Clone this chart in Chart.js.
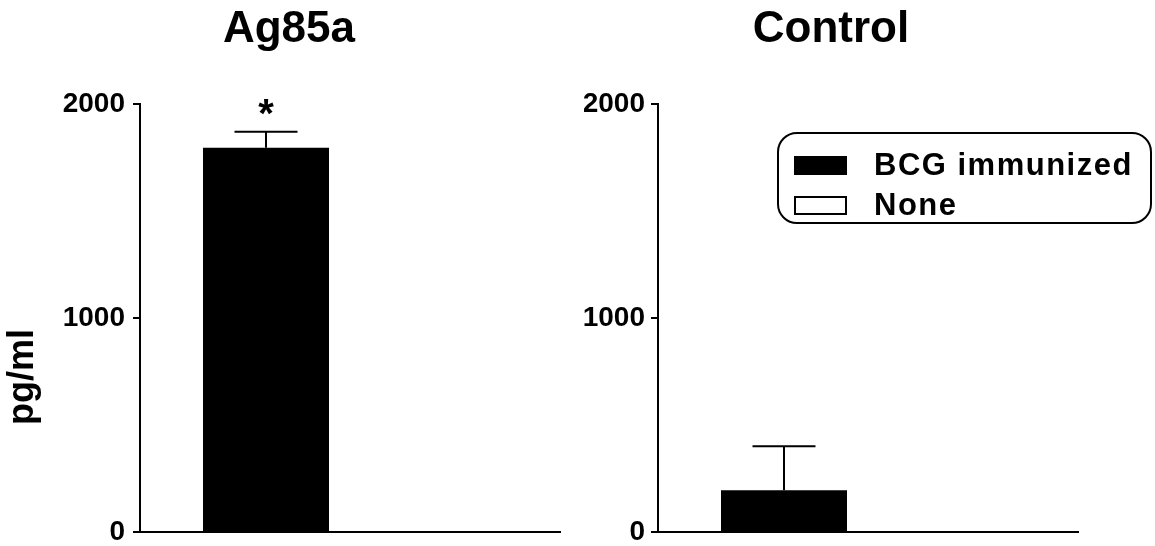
<!DOCTYPE html>
<html>
<head>
<meta charset="utf-8">
<title>Ag85a / Control</title>
<script src="https://cdn.jsdelivr.net/npm/chart.js@4"></script>
<style>
	html, body { margin: 0; padding: 0; background: #fff; }
	body { width: 1155px; height: 546px; position: relative; overflow: hidden; }
	.panel { position: absolute; top: 0; height: 546px; }
	#panel-left  { left: 0;     width: 578px; }
	#panel-right { left: 584px; width: 571px; }
	#y-title {
		position: absolute; left: 21px; top: 377px; white-space: nowrap;
		transform: translate(-50%, -50%) rotate(-90deg);
		font: bold 36px "Liberation Sans", Arial, sans-serif; line-height: 1; color: #000;
	}
	#legend {
		position: absolute; left: 777px; top: 132px; width: 371px; height: 88px;
		border: 2px solid #000; border-radius: 20px; background: #fff;
		font-family: "Liberation Sans", Arial, sans-serif; font-weight: bold;
		font-size: 31px; letter-spacing: 1.5px; color: #000;
	}
	#legend ul { list-style: none; margin: 0; padding: 11px 0 0 15px; }
	#legend li { display: flex; align-items: center; height: 40px; }
	#legend .box { width: 53px; height: 19px; box-sizing: border-box; margin-right: 27px; }
</style>
</head>
<body>
<div class="panel" id="panel-left"><canvas id="chart-ag85a"></canvas></div>
<div class="panel" id="panel-right"><canvas id="chart-control"></canvas></div>
<div id="y-title"></div>
<div id="legend"></div>

<script>
( function () {
	'use strict';

	// Data (pg/ml)
	var panels      = [ 'Ag85a', 'Control' ];
	var seriesNames = [ 'BCG immunized', 'None' ];
	var bcgValues   = [ 1795, 195 ];
	var bcgErrors   = [ 75, 205 ];
	var noneValues  = [ 0, 0 ];
	var noneErrors  = [ 0, 0 ];
	var sigMarks    = [ '*', '' ];
	var yTicks      = [ 0, 1000, 2000 ];
	var yAxisTitle  = 'pg/ml';

	var FONT = '"Liberation Sans", Arial, sans-serif';
	Chart.defaults.font.family = FONT;
	Chart.defaults.color = '#000';

	// ── Error bars (upper only) plus significance mark ──────────────────
	var errorBars = {
		id : 'errorBars',
		afterDatasetsDraw : function ( chart ) {
			var ctx = chart.ctx;
			var y   = chart.scales.y;
			chart.data.datasets.forEach( function ( ds, di ) {
				chart.getDatasetMeta( di ).data.forEach( function ( bar, i ) {
					var err = ds.errors ? ds.errors[ i ] : 0;
					if ( ! err ) {
						return;
					}
					var top  = y.getPixelForValue( ds.data[ i ] + err );
					var half = bar.width * 0.25;
					ctx.save();
					ctx.strokeStyle = '#000';
					ctx.lineWidth   = 2;
					ctx.beginPath();
					ctx.moveTo( bar.x, bar.y );
					ctx.lineTo( bar.x, top );
					ctx.moveTo( bar.x - half, top );
					ctx.lineTo( bar.x + half, top );
					ctx.stroke();
					if ( ds.marks && ds.marks[ i ] ) {
						ctx.fillStyle    = '#000';
						ctx.font         = 'bold 40px ' + FONT;
						ctx.textAlign    = 'center';
						ctx.textBaseline = 'alphabetic';
						ctx.fillText( ds.marks[ i ], bar.x, top - 5 );
					}
					ctx.restore();
				} );
			} );
		},
	};

	function makeChart( canvasId, i, cfg ) {
		return new Chart( document.getElementById( canvasId ), {
			type : 'bar',
			data : {
				labels   : [ panels[ i ] ],
				datasets : [
					{
						label           : seriesNames[ 0 ],
						data            : [ bcgValues[ i ] ],
						errors          : [ bcgErrors[ i ] ],
						marks           : [ sigMarks[ i ] ],
						backgroundColor : '#000',
						borderColor     : '#000',
						borderWidth     : 0,
					},
					{
						label           : seriesNames[ 1 ],
						data            : [ noneValues[ i ] ],
						errors          : [ noneErrors[ i ] ],
						backgroundColor : '#fff',
						borderColor     : '#000',
						borderWidth     : 2,
					},
				],
			},
			options : {
				responsive          : true,
				maintainAspectRatio : false,
				animation           : false,
				categoryPercentage  : 0.8,
				barPercentage       : 0.75,
				layout : { padding : cfg.padding },
				plugins : {
					legend  : { display : false },
					tooltip : { enabled : false },
					title   : {
						display : true,
						text    : panels[ i ],
						color   : '#000',
						font    : { size : 44, weight : 'bold' },
						padding : { top : 3, bottom : 48 },
					},
				},
				scales : {
					x : {
						grid   : { display : false },
						border : { display : true, color : '#000', width : 2 },
						ticks  : { display : false },
						afterFit : function ( scale ) { scale.height = 14; },
					},
					y : {
						min : 0,
						max : 2000,
						afterBuildTicks : function ( scale ) {
							scale.ticks = yTicks.map( function ( v ) { return { value : v }; } );
						},
						// fixed axis width; label overflow must not move the plot edges
						afterFit : function ( scale ) {
							scale.width         = cfg.axisWidth;
							scale.paddingTop    = 0;
							scale.paddingBottom = 0;
						},
						grid   : {
							drawOnChartArea : false,
							drawTicks       : true,
							tickLength      : 7,
							color           : '#000',
							lineWidth       : 2,
						},
						border : { display : true, color : '#000', width : 2 },
						ticks  : {
							padding  : cfg.tickPadding,
							color    : '#000',
							font     : { size : 28, weight : 'bold', lineHeight : 1 },
							callback : function ( v ) { return String( v ); },
						},
					},
				},
			},
			plugins : [ errorBars ],
		} );
	}

	makeChart( 'chart-ag85a', 0, {
		padding     : { left : 18, right : 18, top : 0, bottom : 0 },
		axisWidth   : 122,
		tickPadding : 8,
	} );

	var control = makeChart( 'chart-control', 1, {
		padding     : { left : 0, right : 77, top : 0, bottom : 0 },
		axisWidth   : 74,
		tickPadding : 6,
	} );

	// y-axis title sits low on the left edge in the original, so it is placed by hand
	document.getElementById( 'y-title' ).textContent = yAxisTitle;

	// ── HTML legend built from the Control chart's datasets ─────────────
	var ul = document.createElement( 'ul' );
	control.data.datasets.forEach( function ( ds ) {
		var li  = document.createElement( 'li' );
		var box = document.createElement( 'span' );
		box.className        = 'box';
		box.style.background = ds.backgroundColor;
		box.style.border     = '2px solid ' + ds.borderColor;
		var txt = document.createElement( 'span' );
		txt.textContent = ds.label;
		li.appendChild( box );
		li.appendChild( txt );
		ul.appendChild( li );
	} );
	document.getElementById( 'legend' ).appendChild( ul );

} )();
</script>
</body>
</html>
